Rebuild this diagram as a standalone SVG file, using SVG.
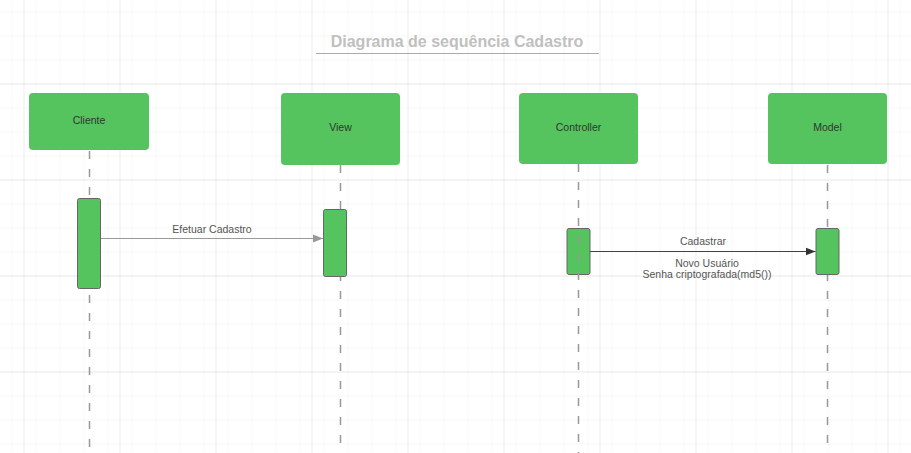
<svg xmlns="http://www.w3.org/2000/svg" width="911" height="453" viewBox="0 0 911 453">
<defs>
<pattern id="minor" x="11.5" y="11.5" width="24" height="24" patternUnits="userSpaceOnUse">
<path d="M0 0H24M0 0V24" fill="none" stroke="#efefef" stroke-width="1" transform="translate(0,0)"/>
</pattern>
<pattern id="major" x="23.5" y="83.5" width="96" height="96" patternUnits="userSpaceOnUse">
<path d="M0 0H96M0 0V96" fill="none" stroke="#dcdcdc" stroke-width="1"/>
</pattern>
<marker id="arrGray" viewBox="0 0 10 10" refX="10" refY="5" markerWidth="10" markerHeight="10" markerUnits="userSpaceOnUse" orient="auto">
<path d="M0 1L10 5L0 9Z" fill="#999"/>
</marker>
<marker id="arrDark" viewBox="0 0 10 10" refX="10" refY="5" markerWidth="10" markerHeight="10" markerUnits="userSpaceOnUse" orient="auto">
<path d="M0 1L10 5L0 9Z" fill="#333"/>
</marker>
</defs>
<style>
.box{fill:#55c45f;}
.bar{fill:#55c45f;stroke:#666;stroke-width:1;}
.life{stroke:#999;stroke-width:1.5;stroke-dasharray:8 10;fill:none;}
.lbl{font-family:"Liberation Sans",Arial,sans-serif;font-size:10.5px;fill:#333;text-anchor:middle;}
.msg{font-family:"Liberation Sans",Arial,sans-serif;font-size:10.5px;fill:#555;text-anchor:middle;}
.title{font-family:"Liberation Sans",Arial,sans-serif;font-size:16px;font-weight:bold;fill:#c0c0c0;text-anchor:middle;}
</style>
<rect width="911" height="453" fill="#fff"/>
<rect width="911" height="453" fill="url(#minor)"/>
<rect width="911" height="453" fill="url(#major)"/>

<g id="title">
<text class="title" x="457" y="47">Diagrama de sequência Cadastro</text>
<line x1="316" y1="53.5" x2="599" y2="53.5" stroke="#aaa" stroke-width="1"/>
</g>

<g id="lifelines">
<line class="life" x1="89.5" y1="151" x2="89.5" y2="453"/>
<line class="life" x1="340.5" y1="165" x2="340.5" y2="453"/>
<line class="life" x1="827.5" y1="165" x2="827.5" y2="453"/>
</g>

<g id="cliente">
<rect class="box" x="29" y="93" width="120" height="57" rx="4"/>
<text class="lbl" x="89" y="124">Cliente</text>
<rect class="bar" x="77.5" y="198.5" width="23" height="90" rx="2"/>
</g>

<g id="view">
<rect class="box" x="281" y="93" width="119" height="72" rx="4"/>
<text class="lbl" x="340.5" y="131">View</text>
<rect class="bar" x="323.5" y="209.5" width="23" height="67" rx="2"/>
</g>

<g id="controller">
<rect class="box" x="519" y="93" width="119" height="71" rx="4"/>
<text class="lbl" x="578.5" y="131">Controller</text>
<rect class="bar" x="567" y="228.5" width="23" height="46" rx="2"/>
<line class="life" x1="578.5" y1="164" x2="578.5" y2="453"/>
</g>

<g id="model">
<rect class="box" x="768" y="93" width="119" height="71" rx="4"/>
<text class="lbl" x="827.5" y="131">Model</text>
<rect class="bar" x="816" y="228.5" width="23" height="46" rx="2"/>
</g>

<g id="connectors">
<line x1="101" y1="238.5" x2="323" y2="238.5" stroke="#999" stroke-width="1" marker-end="url(#arrGray)"/>
<text class="msg" x="212" y="233">Efetuar Cadastro</text>
<line x1="590" y1="251.5" x2="815.5" y2="251.5" stroke="#444" stroke-width="1" marker-end="url(#arrDark)"/>
<text class="msg" x="703" y="245">Cadastrar</text>
<text class="msg" x="707" y="266.5">Novo Usuário</text>
<text class="msg" x="707" y="278">Senha criptografada(md5())</text>
</g>
</svg>
